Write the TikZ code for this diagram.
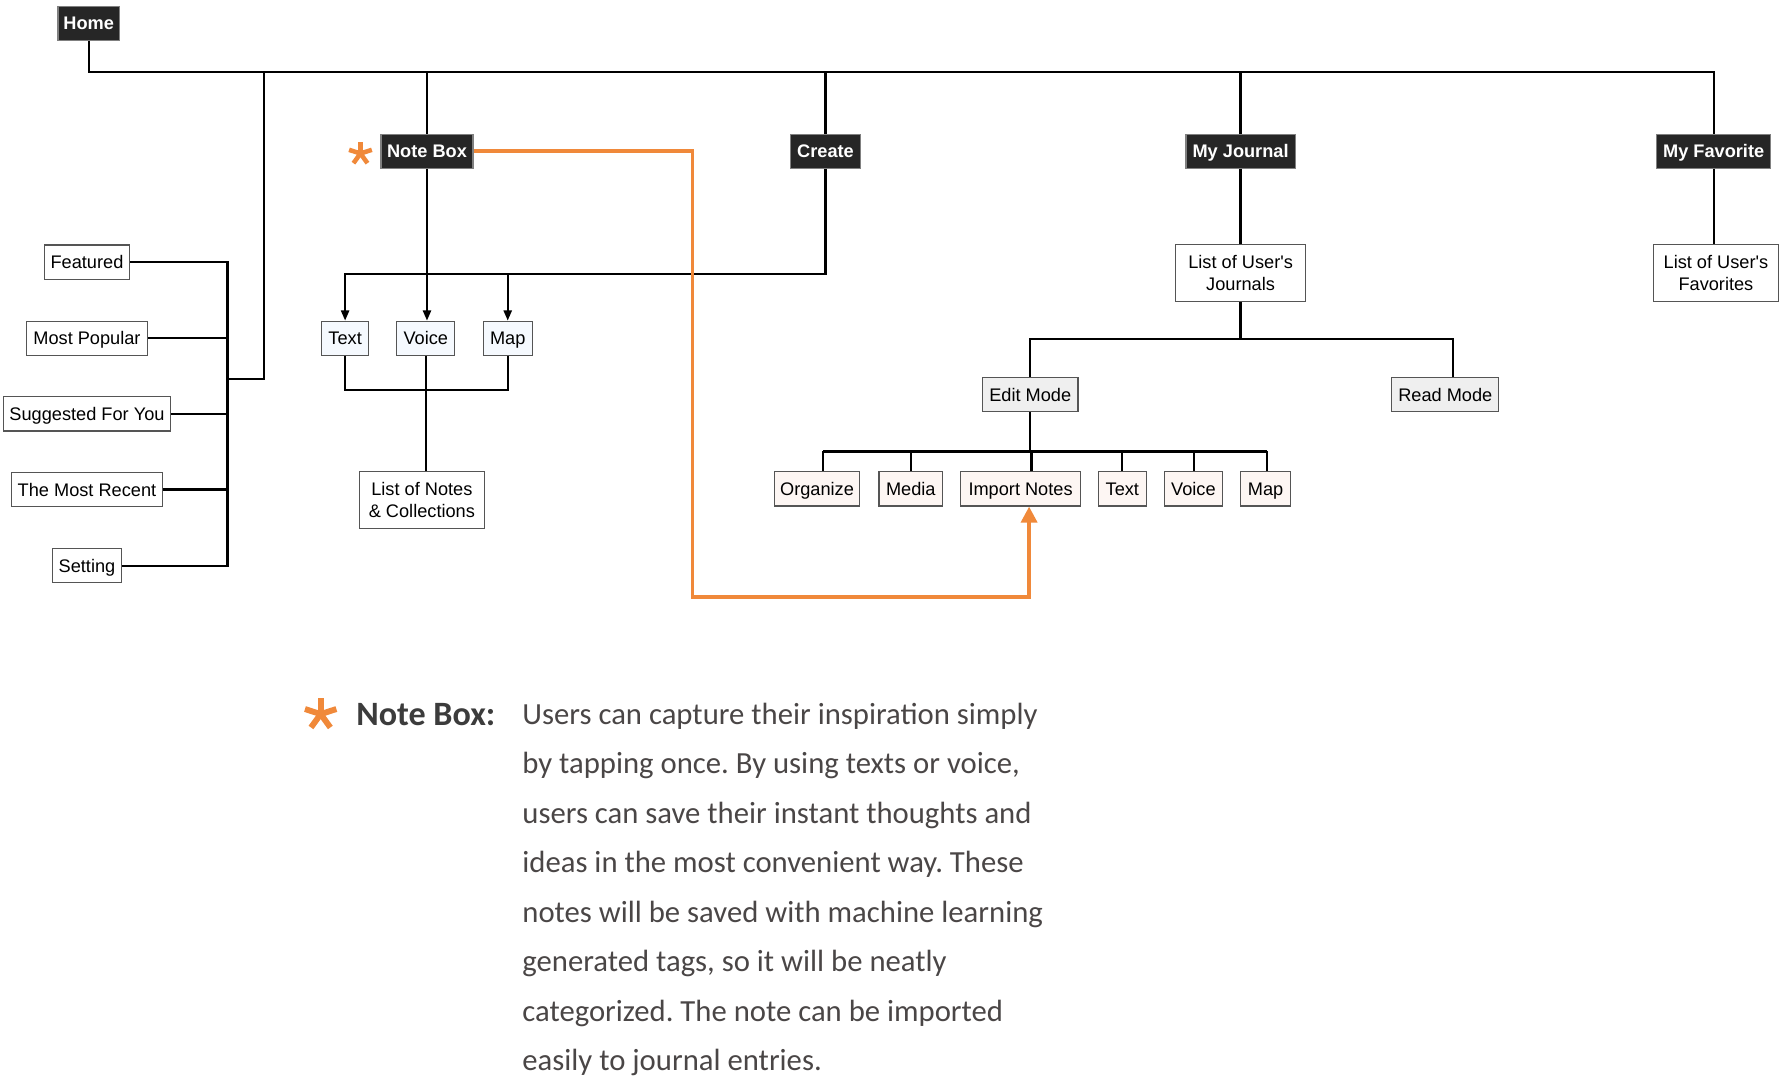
\documentclass[tikz,border=0pt]{standalone}
\usepackage{fontspec}
\setmainfont{Liberation Sans}
\newfontfamily\bodyfont{Carlito}
\usetikzlibrary{arrows.meta}
\definecolor{darkbox}{HTML}{262626}
\definecolor{orng}{HTML}{F0893A}
\definecolor{bordergray}{HTML}{555555}
\definecolor{bluefill}{HTML}{F5F9FE}
\definecolor{pinkfill}{HTML}{FDF6F3}
\definecolor{grayfill}{HTML}{EFEFEF}
\definecolor{bodytext}{HTML}{4A4646}
\definecolor{headtext}{HTML}{3C3C3C}
\frenchspacing
\begin{document}
\begin{tikzpicture}[x=0.5pt,y=-0.5pt,
  bw/.style={minimum width=#1*0.5pt},
  bh/.style={minimum height=#1*0.5pt},
  basebox/.style={draw=bordergray, line width=0.5pt, fill=white, inner sep=0pt,
    font=\fontsize{8}{9.75}\selectfont, align=center},
  box/.style={basebox, bh=30, text height=7.3pt, text depth=1.6pt},
  twobox/.style={basebox, bh=50},
  dark/.style={box, fill=darkbox, draw=gray, text=white,
    font=\fontsize{8}{9.75}\selectfont\bfseries},
  blue/.style={box, fill=bluefill},
  pink/.style={box, fill=pinkfill},
  grey/.style={box, fill=grayfill},
  link/.style={line width=1pt, black},
  arr/.style={link, -{Triangle[width=3.5pt,length=4.5pt]}},
  olink/.style={line width=1.6pt, orng, -{Triangle[width=7pt,length=7pt]}},
  bodyline/.style={anchor=base west, inner sep=0pt, text=bodytext,
    font=\bodyfont\fontsize{13.5}{16}\selectfont}
]
\useasboundingbox (0,0) rectangle (1568,950);

% top level
\node[dark,bw=54] (home) at (78,20.5) {Home};
\node[dark,bw=81] (notebox) at (375.5,133) {Note Box};
\node[dark,bw=62] (create) at (726,133) {Create};
\node[dark,bw=96] (journal) at (1091,133) {My Journal};
\node[dark,bw=100] (fav) at (1507,133) {My Favorite};

% home children
\node[box,bw=75] (featured) at (76.5,230.5) {Featured};
\node[box,bw=107] (popular) at (76.5,297.5) {Most Popular};
\node[box,bw=147] (suggested) at (76.5,364) {Suggested For You};
\node[box,bw=133] (recent) at (76.5,430.5) {The Most Recent};
\node[box,bw=61] (setting) at (76.5,497.5) {Setting};

% note box children
\node[blue,bw=41] (ntext) at (303.5,297.5) {Text};
\node[blue,bw=51] (nvoice) at (374.5,297.5) {Voice};
\node[blue,bw=43] (nmap) at (446.5,297.5) {Map};
\node[twobox,bw=110] (notes) at (371,440) {List of Notes\\\& Collections};

% journal
\node[twobox,bw=114] (ujour) at (1091,240) {List of User\textquotesingle s\\Journals};
\node[twobox,bw=110] (ufav) at (1509,240) {List of User\textquotesingle s\\Favorites};
\node[grey,bw=84] (edit) at (906,347) {Edit Mode};
\node[grey,bw=94] (read) at (1271,347) {Read Mode};
\node[pink,bw=75] (org) at (718.5,430) {Organize};
\node[pink,bw=56] (media) at (801,430) {Media};
\node[pink,bw=105] (imp) at (897.5,430) {Import Notes};
\node[pink,bw=42] (jtext) at (987,430) {Text};
\node[pink,bw=51] (jvoice) at (1049.5,430) {Voice};
\node[pink,bw=44] (jmap) at (1113,430) {Map};

% connectors: home
\coordinate (hbar) at (78,63);
\draw[link] (home.south) -- (hbar) -| (fav.north);
\draw[link] (notebox.north) -- (notebox.north |- hbar);
\draw[link] (create.north) -- (create.north |- hbar);
\draw[link] (journal.north) -- (journal.north |- hbar);
\coordinate (lt) at (232,63);
\coordinate (lb) at (200,333);
\draw[link] (lt) |- (lb);
\coordinate (sp) at (200,0);
\draw[link] (featured.east) -| (setting.east -| sp) -- (setting.east);
\foreach \n in {popular,suggested,recent}
  \draw[link] (\n.east) -- (\n.east -| sp);

% note box / create
\draw[arr] (notebox.south) -- (notebox.south |- nvoice.north);
\coordinate (cbar) at (0,241);
\draw[arr] (create.south) |- (ntext.north |- cbar) -- (ntext.north);
\draw[arr] (nmap.north |- cbar) -- (nmap.north);
\coordinate (nbar) at (0,343);
\draw[link] (ntext.south) |- (nbar -| nmap.south) -- (nmap.south);
\draw[link] (nvoice.south) -- (nvoice.south |- notes.north);

% journal
\draw[link] (journal.south) -- (ujour.north);
\draw[link] (fav.south) -- (fav.south |- ufav.north);
\coordinate (jbar) at (0,298);
\coordinate (rm) at (1278,0);
\draw[link] (ujour.south) -- (ujour.south |- jbar);
\draw[link] (edit.north) |- (rm |- jbar) -- (rm |- read.north);
\coordinate (ebar) at (0,397);
\draw[link] (edit.south) -- (edit.south |- ebar);
\coordinate (d1) at (724,397);
\coordinate (d2) at (801,397);
\coordinate (d3) at (907,397);
\coordinate (d4) at (987,397);
\coordinate (d5) at (1050,397);
\coordinate (d6) at (1114,397);
\draw[link] (d1) -- (d6);
\draw[link] (d1) -- (d1 |- org.north);
\draw[link] (d2) -- (d2 |- media.north);
\draw[link] (d3) -- (d3 |- imp.north);
\draw[link] (d4) -- (d4 |- jtext.north);
\draw[link] (d5) -- (d5 |- jvoice.north);
\draw[link] (d6) -- (d6 |- jmap.north);

% orange link
\coordinate (ob) at (609,525);
\coordinate (oi) at (905,0);
\draw[olink] (notebox.east) -| (ob) -| (oi |- imp.south);

% asterisks
\coordinate (ast1) at (317,135);
\foreach \a in {270,198,342,126,54}
  \draw[orng, line width=2pt] (ast1) -- ++(\a:10.5);
\coordinate (ast2) at (282,628);
\foreach \a in {270,198,342,126,54}
  \draw[orng, line width=2.6pt] (ast2) -- ++(\a:14.5);

% description
\node[anchor=base west, inner sep=0pt, text=headtext,
  font=\bodyfont\bfseries\fontsize{15}{18}\selectfont] (nbhead) at (313,638) {Note Box:};
\node[bodyline] (b1) at (459,637) {Users can capture their inspiration simply};
\node[bodyline] (b2) at (459,680.5) {by tapping once. By using texts or voice,};
\node[bodyline] (b3) at (459,724) {users can save their instant thoughts and};
\node[bodyline] (b4) at (459,767.5) {ideas in the most convenient way. These};
\node[bodyline] (b5) at (459,811) {notes will be saved with machine learning};
\node[bodyline] (b6) at (459,854.5) {generated tags, so it will be neatly};
\node[bodyline] (b7) at (459,898) {categorized. The note can be imported};
\node[bodyline] (b8) at (459,941.5) {easily to journal entries.};
\end{tikzpicture}
\end{document}
